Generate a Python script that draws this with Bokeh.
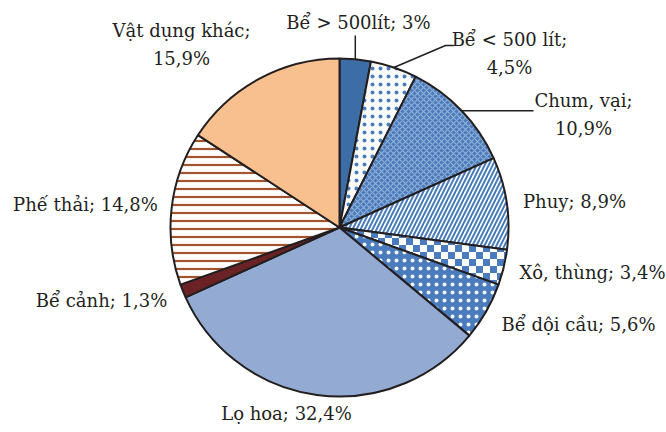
import math, zlib, struct, base64
from bokeh.plotting import figure
from bokeh.models import Range1d, ColumnDataSource, ImageURLTexture
from bokeh.core.properties import value
from bokeh.embed import file_html
from bokeh.resources import INLINE

# ---- data ----
categories = ["Bể > 500lít", "Bể < 500 lít", "Chum, vại", "Phuy", "Xô, thùng",
              "Bể dội cầu", "Lọ hoa", "Bể cảnh", "Phế thải", "Vật dụng khác"]
values = [3, 4.5, 10.9, 8.9, 3.4, 5.6, 32.4, 1.3, 14.8, 15.9]
line_break = [False, True, True, False, False, False, False, False, False, True]

# ---- styles ----
fills = ["#3d6da6", "#fbfbf8", "#4a7cbd", "#ffffff", "#ffffff",
         "#4a7cbd", "#93aad3", "#6a2224", "#ffffff", "#f9c08f"]
hatches = [" ", "dot", "diagonal_cross", "right_diagonal_line", "checker",
           "dot", " ", " ", "horizontal_line", " "]
hatch_colors = ["#ffffff", "#4a7cbd", "#ffffff", "#4a7cbd", "#4a7cbd",
                "#ffffff", "#ffffff", "#ffffff", "#a5532b", "#ffffff"]
hatch_scales = [6, 8, 6, 8, 10, 8, 6, 6, 8, 6]
hatch_weights = [1, 0.8, 1.1, 2, 5, 0.7, 1, 1, 2.2, 1]
hatch_alphas = [1, 1, 0.4, 1, 1, 0.95, 1, 1, 1, 1]

# label layout (centre of text block, page pixel coords)
label_pos = [(358, 22), (509, 53), (583, 114), (574, 201), (592, 272),
             (578, 324), (286, 413), (101, 300), (85, 204), (181, 44)]

W, H = 666, 424
cx, cy, r = 339, 227, 169


def fy(y):
    return 432 - y


def checker_png(n=7, c1=(74, 124, 189), c2=(255, 255, 255)):
    size = 2 * n
    rows = b""
    for yy in range(size):
        row = b"\x00"
        for xx in range(size):
            c = c1 if ((xx // n) + (yy // n)) % 2 == 0 else c2
            row += bytes(c)
        rows += row
    def chunk(t, d):
        return struct.pack(">I", len(d)) + t + d + struct.pack(">I", zlib.crc32(t + d) & 0xffffffff)
    png = b"\x89PNG\r\n\x1a\n" + chunk(b"IHDR", struct.pack(">IIBBBBB", size, size, 8, 2, 0, 0, 0)) \
        + chunk(b"IDAT", zlib.compress(rows)) + chunk(b"IEND", b"")
    return "data:image/png;base64," + base64.b64encode(png).decode()


total = sum(values)
starts, ends = [], []
acc = 0.0
for v in values:
    a0 = math.pi / 2 - 2 * math.pi * acc / total
    acc += v
    a1 = math.pi / 2 - 2 * math.pi * acc / total
    starts.append(a0)
    ends.append(a1)

p = figure(width=W, height=H, output_backend="svg", toolbar_location=None,
           x_range=Range1d(0, W), y_range=Range1d(432 - H, 432),
           min_border=0, outline_line_color=None)
p.axis.visible = False
p.grid.visible = False
p.background_fill_color = "white"
p.border_fill_color = "white"

src = ColumnDataSource(dict(x=[cx] * len(values), y=[fy(cy)] * len(values),
                            start=starts, end=ends, fill=fills, hatch=hatches,
                            hc=hatch_colors, hs=hatch_scales, hw=hatch_weights,
                            ha=hatch_alphas))
p.wedge(x="x", y="y", radius=r, start_angle="start", end_angle="end",
        direction="clock", fill_color="fill", hatch_pattern="hatch",
        hatch_color="hc", hatch_scale="hs", hatch_weight="hw", hatch_alpha="ha",
        hatch_extra={"checker": ImageURLTexture(url=checker_png())},
        line_color="#231f20", line_width=2, source=src)


# leader lines from slice mid-points
def edge_point(i):
    mid = (starts[i] + ends[i]) / 2
    return cx + r * math.cos(mid), fy(cy) + r * math.sin(mid)


x0, y0 = edge_point(0)
p.line([x0, x0], [y0, fy(35)], line_color="#231f20", line_width=1.5)
x1, y1 = edge_point(1)
p.line([x1, 445, 453], [y1, fy(45), fy(45)], line_color="#231f20", line_width=1.5)
x2, y2 = edge_point(2)
p.line([x2, 533], [y2, y2], line_color="#231f20", line_width=1.5)


def fmt(v):
    return ("%g" % v).replace(".", ",") + "%"


texts = []
for c, v, b in zip(categories, values, line_break):
    sep = ";\n" if b else "; "
    texts.append(c + sep + fmt(v))

p.text(x=[q[0] for q in label_pos], y=[fy(q[1]) for q in label_pos], text=texts,
       text_font=value("DejaVu Serif"), text_font_size="18px",
       text_color="#231f20", text_align="center", text_baseline="middle",
       text_line_height=1.3)

open("out.html", "w").write(file_html(p, INLINE))
